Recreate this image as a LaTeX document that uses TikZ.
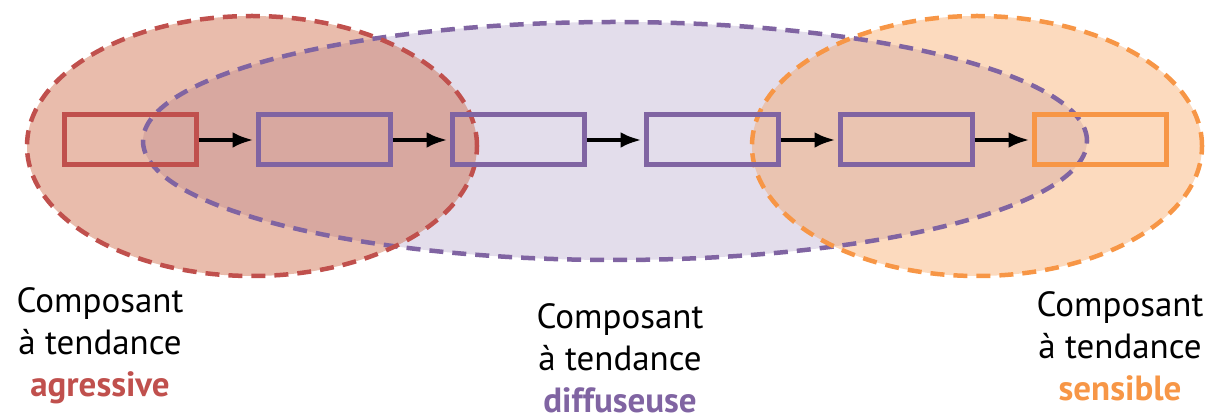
\documentclass[tikz,border=0pt]{standalone}
\usepackage{fontspec}
\setmainfont{PT Sans}
\usetikzlibrary{arrows.meta,positioning}
\definecolor{Rust}{HTML}{C0504D}
\definecolor{RustFill}{HTML}{C85830}
\definecolor{Plum}{HTML}{8064A2}
\definecolor{Amber}{HTML}{F79646}
\tikzset{
  >=Latex,
  zone/.style={dash pattern=on 14pt off 9pt,line width=4.5pt},
  comp/.style={draw,line width=5pt,minimum width=132pt,minimum height=50pt,inner sep=0pt},
  flow/.style={->,line width=4pt,draw=black,shorten >=2pt},
  caption/.style={align=center,inner sep=0pt,font=\fontsize{35}{42}\selectfont}
}
\begin{document}
\begin{tikzpicture}[x=1pt,y=1pt]
  \useasboundingbox (0,0) rectangle (1215,420);
  % zones
  \fill[Plum,opacity=.22] (615,279) ellipse [x radius=472pt,y radius=119pt];
  \fill[RustFill,opacity=.4] (252,274) ellipse [x radius=225pt,y radius=130pt];
  \fill[Amber,opacity=.35] (977,274) ellipse [x radius=225pt,y radius=130pt];
  \draw[zone,Plum] (615,279) ellipse [x radius=472pt,y radius=119pt];
  \draw[zone,Rust] (252,274) ellipse [x radius=225pt,y radius=130pt];
  \draw[zone,Amber] (977,274) ellipse [x radius=225pt,y radius=130pt];
  % chain of components
  \node[comp,draw=Rust] (c1) at (130,280) {};
  \node[comp,draw=Plum,right=57pt of c1] (c2) {};
  \node[comp,draw=Plum,right=57pt of c2] (c3) {};
  \node[comp,draw=Plum,right=57pt of c3] (c4) {};
  \node[comp,draw=Plum,right=57pt of c4] (c5) {};
  \node[comp,draw=Amber,right=57pt of c5] (c6) {};
  \foreach \a/\b in {c1/c2,c2/c3,c3/c4,c4/c5,c5/c6}
    \draw[flow] (\a.east)--(\b.west);
  % captions
  \node[caption] (agr) at (100,74) {Composant\\à tendance\\\textbf{\textcolor{Rust}{agressive}}};
  \node[caption] (dif) at (620,62) {Composant\\à tendance\\\textbf{\textcolor{Plum}{diffuseuse}}};
  \node[caption] (sen) at (1120,74) {Composant\\à tendance\\\textbf{\textcolor{Amber}{sensible}}};
\end{tikzpicture}
\end{document}
